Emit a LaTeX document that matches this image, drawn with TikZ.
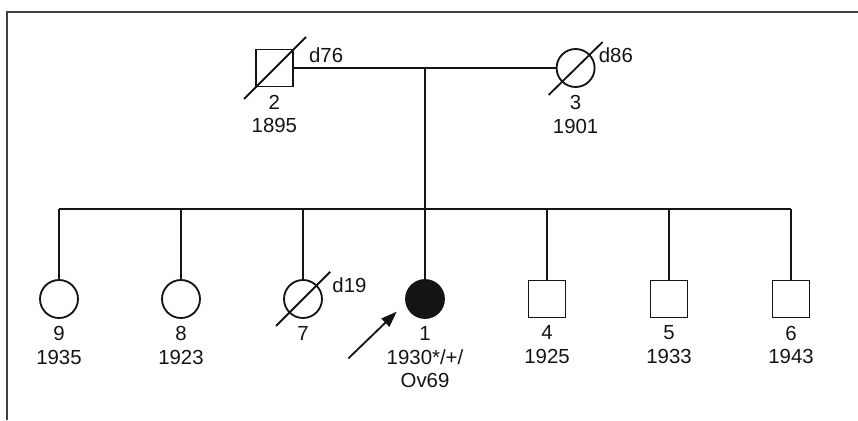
\documentclass[tikz,border=0pt]{standalone}
\usepackage{tikz}
\usetikzlibrary{calc,positioning,arrows.meta}
\usepackage{fontspec}
\setmainfont{Liberation Sans}
\definecolor{pline}{RGB}{20,20,20}
\definecolor{pframe}{RGB}{64,64,64}

\begin{document}
\begin{tikzpicture}[
  font=\fontsize{14.5}{16.8}\selectfont,
  every node/.style={text=pline},
  line/.style={draw=pline,line width=1.3pt},
  male/.style={line,rectangle,minimum size=0.925cm,inner sep=0pt},
  female/.style={line,circle,minimum size=0.95cm,inner sep=0pt},
  affected/.style={fill=pline},
  info/.style={align=center,inner sep=0pt,below=0.18cm of #1},
  dead/.style={anchor=west,inner sep=0pt}]

\useasboundingbox (0,0) rectangle (21.45,10.5);

% frame
\draw[pframe,line width=1.4pt] (0.175,0)--(0.175,10.2)--(21.45,10.2);

% parents
\node[male] (p2) at (6.86,8.8) {};
\node[female] (p3) at (14.39,8.8) {};
\node[info=p2] (l2) {2\\1895};
\node[info=p3] (l3) {3\\1901};
\draw[line] ([shift={(-0.76,-0.775)}]p2.center)--([shift={(0.79,0.775)}]p2.center);
\draw[line] ([shift={(-0.675,-0.675)}]p3.center)--([shift={(0.675,0.65)}]p3.center);
\node[dead] at ([shift={(0.86,0.325)}]p2.center) {d76};
\node[dead] at ([shift={(0.575,0.325)}]p3.center) {d86};

% children
\node[female] (p9) at (1.475,3.025) {};
\node[female] (p8) at (4.525,3.025) {};
\node[female] (p7) at (7.575,3.025) {};
\node[female,affected] (p1) at (10.625,3.025) {};
\node[male] (p4) at (13.675,3.025) {};
\node[male] (p5) at (16.725,3.025) {};
\node[male] (p6) at (19.775,3.025) {};
\node[info=p9] (l9) {9\\1935};
\node[info=p8] (l8) {8\\1923};
\node[info=p7] (l7) {7};
\node[info=p1] (l1) {1\\1930*/+/\\Ov69};
\node[info=p4] (l4) {4\\1925};
\node[info=p5] (l5) {5\\1933};
\node[info=p6] (l6) {6\\1943};
\draw[line] ([shift={(-0.675,-0.675)}]p7.center)--([shift={(0.68,0.68)}]p7.center);
\node[dead] at ([shift={(0.73,0.35)}]p7.center) {d19};

% lines
\coordinate (mate) at ($(p2)!0.5!(p3)$);
\coordinate (sib) at ($(mate)+(0,-3.525)$);
\draw[line] (p2)--(p3);
\draw[line] (mate)--(sib);
\draw[line] (p9 |- sib)--(p6 |- sib);
\foreach \c in {p9,p8,p7,p1,p4,p5,p6}
  \draw[line] (\c |- sib)--(\c.north);

% proband
\coordinate (arrtail) at (8.71,1.54);
\coordinate (arrtip) at (9.92,2.71);
\draw[line,-{Triangle[length=0.4cm,width=0.28cm]}] (arrtail)--(arrtip);
\end{tikzpicture}
\end{document}
